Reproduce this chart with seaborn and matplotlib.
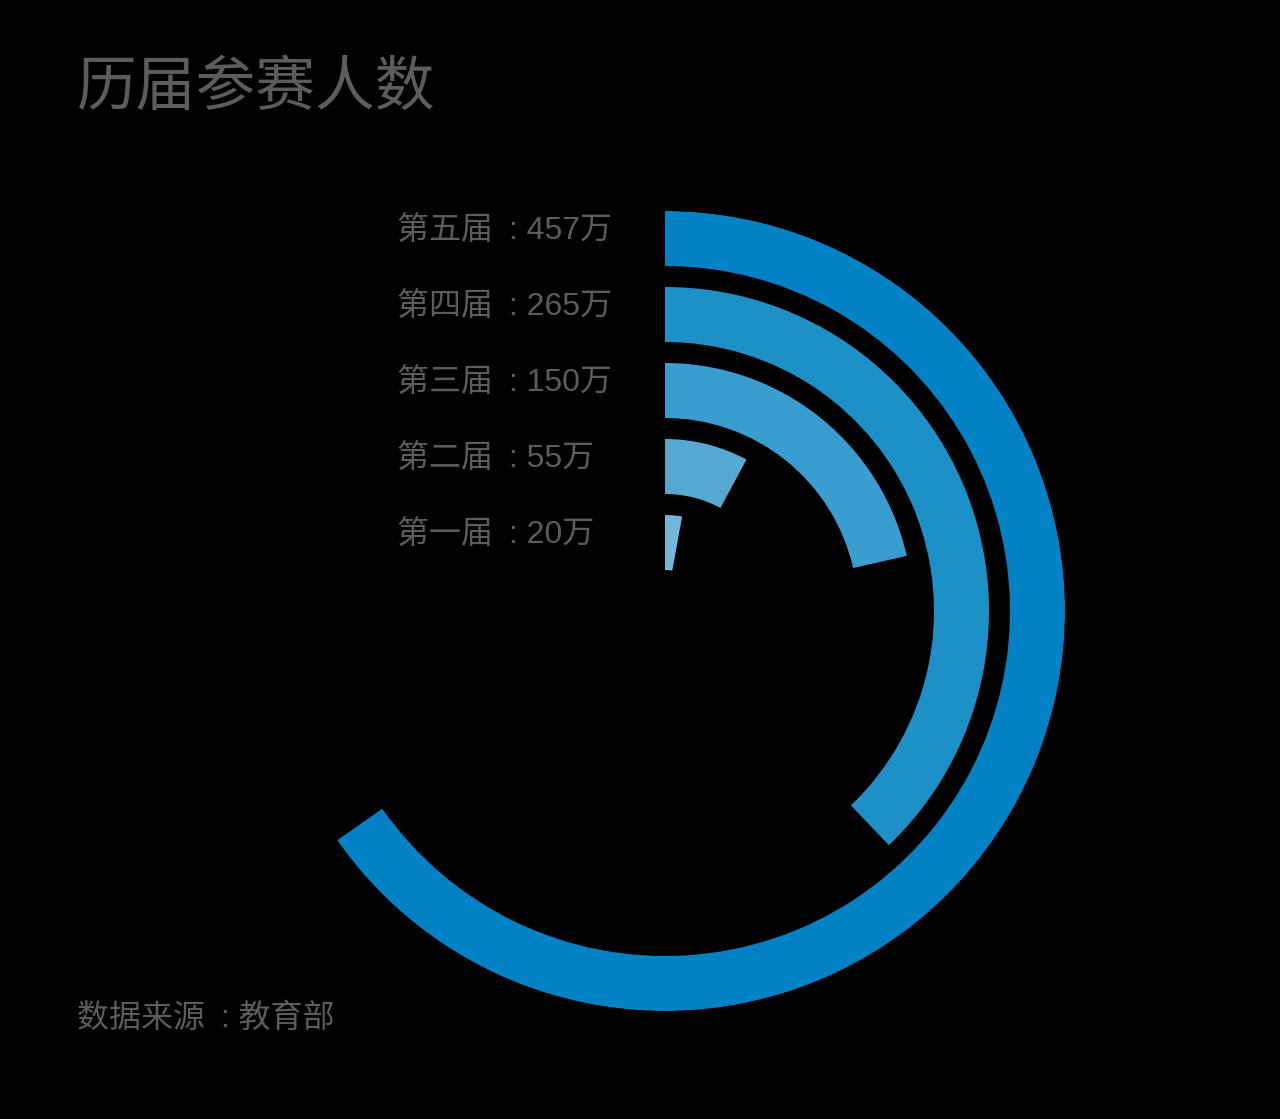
import numpy as np
import matplotlib
matplotlib.use("Agg")
import matplotlib.pyplot as plt
import seaborn as sns

# Datos
editions = ["第一届", "第二届", "第三届", "第四届", "第五届"]
participants = [20, 55, 150, 265, 457]  # 万人
colors = ["#72b6da", "#56a9d3", "#3a9dcf", "#1e90c8", "#0282c4"]
full_scale = 700  # valor que equivale a una vuelta completa

sns.set_theme(style="dark")
plt.rcParams['font.family'] = ['Liberation Sans', 'Noto Sans CJK SC', 'DejaVu Sans']
plt.rcParams['figure.facecolor'] = 'black'

W, H = 1280, 1119
fig = plt.figure(figsize=(W / 100, H / 100), dpi=100)

# eje polar centrado en (665, 611) px con radio 400 px
cx, cy, R = 665, 611, 400
ax = fig.add_axes([(cx - R) / W, (H - cy - R) / H, 2 * R / W, 2 * R / H], projection='polar')
ax.set_facecolor('black')
ax.set_theta_zero_location('N')
ax.set_theta_direction(-1)

r0, step, thick = 41, 76, 55
for i, (val, col) in enumerate(zip(participants, colors)):
    theta = val / full_scale * 2 * np.pi
    ax.bar(0, thick, width=theta, bottom=r0 + i * step, align='edge',
           color=col, edgecolor='none', linewidth=0)

ax.set_ylim(0, R)
ax.set_xticks([])
ax.set_yticks([])
ax.grid(False)
ax.spines['polar'].set_visible(False)

# etiquetas a la izquierda de cada anillo
text_col = '#5c5c5c'
sep = "\u2002: "  # dos puntos centrado como en el original
for i, (name, val) in enumerate(zip(editions, participants)):
    ring_mid = cy - (r0 + i * step + thick / 2)
    fig.text(397 / W, 1 - (ring_mid - 8) / H, f"{name}{sep}{val}万",
             ha='left', va='center', fontsize=23, color=text_col)

fig.text(77 / W, 1 - 89 / H, "历届参赛人数", ha='left', va='center',
         fontsize=43, color=text_col)
fig.text(77 / W, 1 - 1019 / H, f"数据来源{sep}教育部", ha='left', va='center',
         fontsize=23, color=text_col)

fig.savefig("out.png", dpi=100, facecolor='black')
